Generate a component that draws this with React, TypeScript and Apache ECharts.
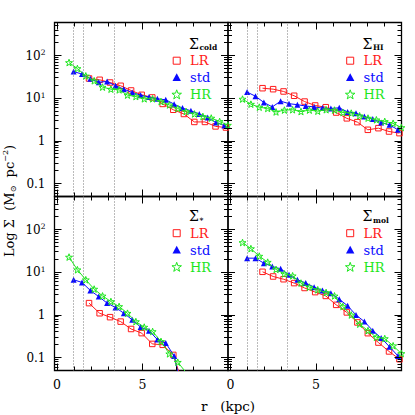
import React, { useEffect, useRef } from "react";
import * as echarts from "echarts";

// radii (kpc) of the three resolutions
const rLR = [1.87, 2.49, 3.1, 3.72, 4.33, 4.95, 5.57, 6.18, 6.8, 7.42, 8.03, 8.65, 9.27, 9.88];
const rStd = [0.97, 1.46, 1.95, 2.44, 2.93, 3.42, 3.91, 4.4, 4.89, 5.38, 5.87, 6.36, 6.85, 7.34, 7.83, 8.32, 8.81, 9.3, 9.79];
const rHR = [0.7, 1.19, 1.68, 2.17, 2.66, 3.15, 3.63, 4.12, 4.61, 5.1, 5.59, 6.08, 6.57, 7.06, 7.55, 8.04, 8.53, 9.02, 9.51, 9.99];

// Sigma_cold
const coldLR = [29.2, 27.2, 23.5, 19.7, 15.3, 12.1, 10.5, 7.4, 5.4, 4.3, 2.8, 2.8, 2.2, 2.07];
const coldStd = [42.5, 37, 28.7, 24, 24.8, 19.7, 16.4, 13.7, 11.9, 10.7, 9.75, 9.25, 7.3, 5.9, 5.1, 4.3, 3.55, 2.7, 2.3];
const coldHR = [69, 50, 33.6, 25.8, 18.3, 16.4, 15.8, 11.9, 11.0, 9.75, 9.75, 8.4, 7.0, 5.8, 4.9, 4.3, 3.75, 3.45, 2.87, 2.35];

// Sigma_HI
const hiLR = [17.3, 16.4, 14.5, 11.5, 8.4, 6.8, 6.2, 4.65, 3.4, 2.77, 1.83, 2.0, 1.67, 1.53];
const hiStd = [14.0, 11.2, 8.0, 6.3, 8.6, 7.5, 7.1, 6.6, 6.3, 5.9, 5.8, 6.0, 4.8, 4.5, 3.75, 3.26, 2.7, 2.4, 1.83];
const hiHR = [9.6, 7.3, 6.2, 5.8, 4.8, 5.3, 5.4, 4.9, 5.3, 5.0, 5.4, 5.3, 4.65, 4.5, 3.9, 3.44, 3.14, 2.87, 2.6, 2.07];

// Sigma_*
const starLR = [1.9, 1.1, 0.89, 0.7, 0.47, 0.376, 0.21, 0.2, 0.116, 0.02];
const starStd = [6.7, 5.8, 3.75, 2.7, 1.9, 1.5, 1.1, 0.77, 0.52, 0.43, 0.265, 0.22, 0.11, 0.015];
const starHR = [22.8, 11.5, 6.7, 4.05, 2.8, 2.07, 1.58, 1.1, 0.7, 0.52, 0.41, 0.24, 0.123, 0.078, 0.045];

// Sigma_mol
const molLR = [10.3, 8.0, 6.9, 5.6, 4.3, 3.44, 2.8, 1.73, 1.15, 0.67, 0.375, 0.226, 0.14, 0.092];
const molStd = [21.5, 21.5, 16.4, 13.7, 12.1, 8.75, 6.7, 5.6, 4.5, 3.75, 3.25, 2.35, 1.64, 1.0, 0.7, 0.43, 0.29, 0.18, 0.11];
const molHR = [50, 36, 24, 17.3, 11.7, 9.2, 8.3, 5.6, 4.5, 3.9, 3.37, 2.8, 1.58, 1.0, 0.61, 0.43, 0.3, 0.28, 0.19, 0.125];

// dotted reference radii
const refR = [0.97, 1.55, 3.33];

const yLabelVals = [0.1, 1, 10, 100];
const xLabelVals = [0, 5];
const xTickVals = [0, 1, 2, 3, 4, 5, 6, 7, 8, 9];
const xMajorVals = [0, 5];
const legendNames = ["LR", "std", "HR"];

const RED = "#ff1a1a";
const BLUE = "#0a0aff";
const GREEN = "#1ee61e";
const FONT = '"DejaVu Serif", serif';

const panels = [
  { sub: "cold", lr: coldLR, std: coldStd, hr: coldHR, col: 0, row: 0 },
  { sub: "HI", lr: hiLR, std: hiStd, hr: hiHR, col: 1, row: 0 },
  { sub: "*", lr: starLR, std: starStd, hr: starHR, col: 0, row: 1 },
  { sub: "mol", lr: molLR, std: molStd, hr: molHR, col: 1, row: 1 },
];

const GX = [54.5, 228];
const GW = [173.5, 173.5];
const GY = [22.5, 196.5];
const GH = 174;
const XMIN = -0.15, XMAX = 10;
const YMIN = 0.05, YMAX = 600;

const STAR = "path://M0,-10 L2.35,-3.24 L9.51,-3.09 L3.8,1.24 L5.88,8.09 L0,4 L-5.88,8.09 L-3.8,1.24 L-9.51,-3.09 L-2.35,-3.24 Z";

function pairs(r: number[], v: number[]) {
  return v.map((y, i) => [r[i], y]);
}

function logTicks() {
  const d: { v: number; major: boolean }[] = [];
  for (let e = -2; e <= 2; e++) {
    for (let m = 1; m <= 9; m++) {
      const v = m * Math.pow(10, e);
      if (v >= YMIN * 0.999 && v <= YMAX * 1.001) d.push({ v, major: m === 1 });
    }
  }
  return d;
}

function starPoints(cx: number, cy: number, ro: number, ri: number) {
  const pts: number[][] = [];
  for (let i = 0; i < 10; i++) {
    const a = -Math.PI / 2 + (i * Math.PI) / 5;
    const rr = i % 2 === 0 ? ro : ri;
    pts.push([cx + rr * Math.cos(a), cy + rr * Math.sin(a)]);
  }
  return pts;
}

const crisp = (v: number) => Math.round(v - 0.5) + 0.5;

export default function App() {
  const ref = useRef<HTMLDivElement>(null);
  useEffect(() => {
    if (!ref.current) return;
    const chart = echarts.init(ref.current, undefined, { renderer: "svg" });
    const grid: any[] = [];
    const xAxis: any[] = [];
    const yAxis: any[] = [];
    const series: any[] = [];
    const graphic: any[] = [];

    panels.forEach((p, k) => {
      const left = GX[p.col];
      const top = GY[p.row];
      grid.push({ left, top, width: GW[p.col], height: GH, show: true, borderColor: "#000", borderWidth: 1.3, backgroundColor: "transparent" });
      xAxis.push({
        type: "value", gridIndex: k, min: XMIN, max: XMAX,
        axisLine: { show: false }, axisTick: { show: false }, splitLine: { show: false },
        axisLabel: { show: p.row === 1, customValues: xLabelVals, fontFamily: FONT, fontSize: 12.5, color: "#000", margin: 7 },
      });
      yAxis.push({
        type: "log", gridIndex: k, min: YMIN, max: YMAX, logBase: 10,
        axisLine: { show: false }, axisTick: { show: false }, splitLine: { show: false },
        axisLabel: {
          show: p.col === 0, customValues: yLabelVals, margin: 9, color: "#000",
          formatter: (v: number) => {
            if (Math.abs(v - 100) < 1e-6) return "{b|10}{s|2}";
            if (Math.abs(v - 10) < 1e-6) return "{b|10}{s|1}";
            if (Math.abs(v - 1) < 1e-6) return "{b|1}";
            return "{b|0.1}";
          },
          rich: {
            b: { fontFamily: FONT, fontSize: 12, lineHeight: 14, color: "#000" },
            s: { fontFamily: FONT, fontSize: 7.5, lineHeight: 8, verticalAlign: "top", color: "#000" },
          },
        },
      });
      series.push({
        type: "line", name: "LR", xAxisIndex: k, yAxisIndex: k, data: pairs(rLR, p.lr),
        symbol: "rect", symbolSize: 5.5, clip: true, z: 3,
        lineStyle: { color: RED, width: 1 },
        itemStyle: { color: "rgba(255,255,255,0)", borderColor: RED, borderWidth: 1 },
        markLine: {
          silent: true, symbol: ["none", "none"], label: { show: false },
          lineStyle: { color: "#777", type: [1, 2], width: 1 },
          data: refR.map((x) => ({ xAxis: x })),
        },
      });
      series.push({
        type: "line", name: "std", xAxisIndex: k, yAxisIndex: k, data: pairs(rStd, p.std),
        symbol: "triangle", symbolSize: 6, clip: true, z: 4,
        lineStyle: { color: BLUE, width: 1 },
        itemStyle: { color: BLUE, borderWidth: 0 },
      });
      series.push({
        type: "line", name: "HR", xAxisIndex: k, yAxisIndex: k, data: pairs(rHR, p.hr),
        symbol: STAR, symbolSize: 7, symbolKeepAspect: true, clip: true, z: 5,
        lineStyle: { color: GREEN, width: 1 },
        itemStyle: { color: "rgba(255,255,255,0)", borderColor: GREEN, borderWidth: 1 },
      });

      const ox = left;
      const oy = top - (p.row === 1 ? 1.5 : 0);
      graphic.push({ type: "text", x: ox + 134.5, y: oy + 21, style: { text: "Σ", font: `14px ${FONT}`, fill: "#000", align: "left", verticalAlign: "middle" } });
      graphic.push({ type: "text", x: ox + 145, y: oy + 25, style: { text: p.sub, font: `bold 7.5px ${FONT}`, fill: "#000", align: "left", verticalAlign: "middle" } });
      const cx = ox + 122.2;
      const rows = [38.2, 55, 72].map((d) => oy + d);
      const cols = [RED, BLUE, GREEN];
      graphic.push({ type: "rect", shape: { x: cx - 3.5, y: rows[0] - 3.5, width: 7, height: 7 }, style: { fill: "none", stroke: RED, lineWidth: 1 } });
      graphic.push({ type: "polygon", shape: { points: [[cx, rows[1] - 4.2], [cx + 4.2, rows[1] + 3.5], [cx - 4.2, rows[1] + 3.5]] }, style: { fill: BLUE } });
      graphic.push({ type: "polygon", shape: { points: starPoints(cx, rows[2] + 0.3, 5, 2) }, style: { fill: "none", stroke: GREEN, lineWidth: 1 } });
      legendNames.forEach((n, i) => {
        graphic.push({ type: "text", x: ox + 135.5, y: rows[i], style: { text: n, font: `13px ${FONT}`, fill: cols[i], align: "left", verticalAlign: "middle" } });
      });
    });

    graphic.push({
      type: "text", x: 9.5, y: 201, rotation: Math.PI / 2,
      style: {
        text: "{n|Log Σ  (M}{s|⊙}{n|  pc}{p|−2}{n|)}",
        align: "center", verticalAlign: "middle", fill: "#000",
        rich: {
          n: { fontFamily: FONT, fontSize: 13, lineHeight: 16 },
          s: { fontFamily: FONT, fontSize: 8, lineHeight: 9, verticalAlign: "bottom" },
          p: { fontFamily: FONT, fontSize: 8, lineHeight: 9, verticalAlign: "top" },
        },
      },
    });
    graphic.push({
      type: "text", x: 228, y: 406, style: { text: "r   (kpc)", font: `13.5px ${FONT}`, fill: "#000", align: "center", verticalAlign: "middle" },
    });

    chart.setOption({ animation: false, backgroundColor: "#fff", grid, xAxis, yAxis, series });

    // ticks on all four sides of every panel, placed through the axes' scales
    const yt = logTicks();
    panels.forEach((_p, k) => {
      const f = { xAxisIndex: k, yAxisIndex: k };
      const L = (chart.convertToPixel(f, [XMIN, 1]) as number[])[0];
      const R = (chart.convertToPixel(f, [XMAX, 1]) as number[])[0];
      const T = (chart.convertToPixel(f, [0, YMAX]) as number[])[1];
      const B = (chart.convertToPixel(f, [0, YMIN]) as number[])[1];
      yt.forEach(({ v, major }) => {
        const y = crisp((chart.convertToPixel(f, [0, v]) as number[])[1]);
        const len = major ? 7 : 4;
        graphic.push({ type: "line", silent: true, z: 50, shape: { x1: L, y1: y, x2: L + len, y2: y }, style: { stroke: "#000", lineWidth: 1 } });
        graphic.push({ type: "line", silent: true, z: 50, shape: { x1: R - len, y1: y, x2: R, y2: y }, style: { stroke: "#000", lineWidth: 1 } });
      });
      xTickVals.forEach((r) => {
        const x = crisp((chart.convertToPixel(f, [r, 1]) as number[])[0]);
        const len = xMajorVals.includes(r) ? 7 : 4;
        graphic.push({ type: "line", silent: true, z: 50, shape: { x1: x, y1: T, x2: x, y2: T + len }, style: { stroke: "#000", lineWidth: 1 } });
        graphic.push({ type: "line", silent: true, z: 50, shape: { x1: x, y1: B - len, x2: x, y2: B }, style: { stroke: "#000", lineWidth: 1 } });
      });
    });

    chart.setOption({ graphic });
    return () => chart.dispose();
  }, []);
  return <div ref={ref} style={{ position: "absolute", left: 0, top: 0, width: 415, height: 415 }} />;
}
